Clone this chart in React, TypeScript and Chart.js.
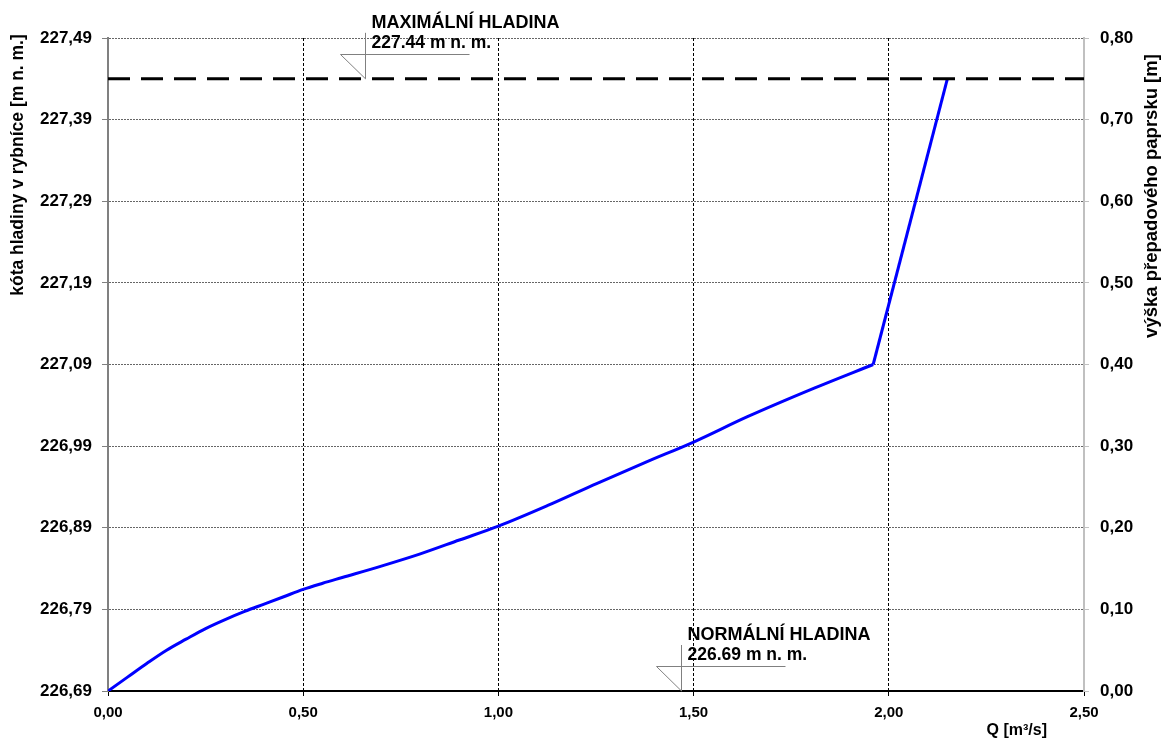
import React, { useEffect, useRef } from "react";
import { Chart, registerables } from "chart.js";

Chart.register(...registerables);

// průtok Q [m3/s] a výška přepadového paprsku [m]
const qValues = [0, 0.05, 0.1, 0.15, 0.2, 0.25, 0.3, 0.35, 0.4, 0.45, 0.5, 0.55, 0.6, 0.7, 0.8, 0.9, 1.0, 1.125, 1.253, 1.381, 1.5, 1.638, 1.809, 1.96];
const heightValues = [0, 0.017, 0.034, 0.05, 0.0635, 0.0765, 0.0875, 0.0975, 0.1065, 0.1155, 0.1245, 0.132, 0.139, 0.153, 0.168, 0.185, 0.202, 0.227, 0.2545, 0.281, 0.305, 0.336, 0.371, 0.4];
const overflowQ = [1.96, 2.15];
const overflowHeight = [0.4, 0.75];

const maxLevel = 227.44;
const normalLevel = 226.69;
const maxLineQ = [0, 2.5];
const maxMarkQ = 0.659;
const normalMarkQ = 1.467;

const levelTicks = [226.69, 226.79, 226.89, 226.99, 227.09, 227.19, 227.29, 227.39, 227.49];
const heightTicks = [0, 0.1, 0.2, 0.3, 0.4, 0.5, 0.6, 0.7, 0.8];
const qTicks = [0, 0.5, 1.0, 1.5, 2.0, 2.5];

const maxTitle = "MAXIMÁLNÍ HLADINA";
const maxLabel = "227.44 m n. m.";
const normalTitle = "NORMÁLNÍ HLADINA";
const normalLabel = "226.69 m n. m.";
const leftTitle = "kóta hladiny v rybníce [m n. m.]";
const rightTitle = "výška přepadového paprsku [m]";
const xTitle = "Q [m³/s]";

const FONT = '"Liberation Sans", Arial, sans-serif';
const fmt = (v: number) => v.toFixed(2).replace(".", ",");

function drawMark(ctx: CanvasRenderingContext2D, px: number, py: number, title: string, label: string) {
  ctx.save();
  ctx.strokeStyle = "#808080";
  ctx.lineWidth = 1;
  ctx.beginPath();
  const vx = Math.round(px) + 0.5;
  const hy = Math.round(py - 25) + 0.5;
  ctx.moveTo(vx, py - 46);
  ctx.lineTo(vx, py);
  ctx.moveTo(vx - 25, hy);
  ctx.lineTo(vx + 104, hy);
  ctx.moveTo(vx - 25, hy);
  ctx.lineTo(vx, py);
  ctx.stroke();
  ctx.fillStyle = "#000";
  ctx.textAlign = "left";
  ctx.textBaseline = "alphabetic";
  ctx.font = `bold 18px ${FONT}`;
  ctx.fillText(title, vx + 6, py - 51);
  ctx.font = `bold 17.5px ${FONT}`;
  ctx.fillText(label, vx + 6, py - 31);
  ctx.restore();
}

const overlayPlugin = {
  id: "overlay",
  afterDatasetsDraw(chart: any) {
    const ctx: CanvasRenderingContext2D = chart.ctx;
    const xs = chart.scales.x;
    const ys = chart.scales.y;
    drawMark(ctx, xs.getPixelForValue(maxMarkQ), ys.getPixelForValue(maxLevel), maxTitle, maxLabel);
    drawMark(ctx, xs.getPixelForValue(normalMarkQ), ys.getPixelForValue(normalLevel), normalTitle, normalLabel);
  },
  afterDraw(chart: any) {
    const ctx: CanvasRenderingContext2D = chart.ctx;
    ctx.save();
    ctx.fillStyle = "#000";
    ctx.textAlign = "center";
    ctx.textBaseline = "middle";
    ctx.font = `bold 17.5px ${FONT}`;
    ctx.save();
    ctx.translate(18, 165);
    ctx.rotate(-Math.PI / 2);
    ctx.fillText(leftTitle, 0, 0);
    ctx.restore();
    ctx.font = `bold 18.5px ${FONT}`;
    ctx.save();
    ctx.translate(1152, 196);
    ctx.rotate(-Math.PI / 2);
    ctx.fillText(rightTitle, 0, 0);
    ctx.restore();
    ctx.font = `bold 16px ${FONT}`;
    ctx.textAlign = "right";
    ctx.textBaseline = "alphabetic";
    ctx.fillText(xTitle, 1047, 735);
    ctx.restore();
  },
};

export default function App() {
  const ref = useRef<HTMLCanvasElement | null>(null);
  useEffect(() => {
    document.body.style.margin = "0";
    if (!ref.current) return;
    const curve = qValues.map((q, i) => ({ x: q, y: heightValues[i] }));
    const overflow = overflowQ.map((q, i) => ({ x: q, y: overflowHeight[i] }));
    const maxLine = maxLineQ.map((q) => ({ x: q, y: maxLevel }));
    const chart = new Chart(ref.current, {
      type: "scatter",
      data: {
        datasets: [
          {
            data: maxLine,
            yAxisID: "y",
            showLine: true,
            borderColor: "#000",
            borderWidth: 3,
            borderDash: [22, 11],
            pointRadius: 0,
          },
          {
            data: curve,
            yAxisID: "y2",
            showLine: true,
            borderColor: "#0000ff",
            borderWidth: 3,
            cubicInterpolationMode: "monotone",
            pointRadius: 0,
          },
          {
            data: overflow,
            yAxisID: "y2",
            showLine: true,
            borderColor: "#0000ff",
            borderWidth: 3,
            pointRadius: 0,
          },
        ],
      } as any,
      options: {
        animation: false,
        responsive: true,
        maintainAspectRatio: false,
        layout: { padding: { top: 38, left: 0, right: 0, bottom: 0 } },
        plugins: { legend: { display: false }, tooltip: { enabled: false } },
        scales: {
          x: {
            type: "linear",
            min: 0,
            max: 2.5,
            afterBuildTicks: (s: any) => {
              s.ticks = qTicks.map((v) => ({ value: v }));
            },
            afterFit: (s: any) => {
              s.height = 53;
            },
            ticks: {
              callback: (v: any) => fmt(Number(v)),
              font: { family: FONT, size: 15, weight: "bold" },
              color: "#000",
              padding: 8,
              maxRotation: 0,
              autoSkip: false,
            },
            grid: {
              color: (c: any) => (c.tick && (c.tick.value === 0 || c.tick.value === 2.5) ? "rgba(0,0,0,0)" : "#000"),
              tickColor: "#000",
              lineWidth: 1,
              tickLength: 5,
            },
            border: { color: "#000", width: 2, dash: [3, 2] },
          },
          y: {
            type: "linear",
            position: "left",
            min: 226.69,
            max: 227.49,
            afterBuildTicks: (s: any) => {
              s.ticks = levelTicks.map((v) => ({ value: v }));
            },
            afterFit: (s: any) => {
              s.width = 108;
            },
            ticks: {
              callback: (v: any) => fmt(Number(v)),
              font: { family: FONT, size: 17, weight: "bold" },
              color: "#000",
              padding: 10,
              autoSkip: false,
            },
            grid: {
              color: (c: any) => (c.tick && Math.abs(c.tick.value - 226.69) < 1e-6 ? "rgba(0,0,0,0)" : "#666"),
              tickColor: "#808080",
              lineWidth: 1,
              tickLength: 6,
            },
            border: { color: "#808080", width: 2, dash: [2, 1] },
          },
          y2: {
            type: "linear",
            position: "right",
            min: 0,
            max: 0.8,
            afterBuildTicks: (s: any) => {
              s.ticks = heightTicks.map((v) => ({ value: v }));
            },
            afterFit: (s: any) => {
              s.width = 87;
            },
            ticks: {
              callback: (v: any) => fmt(Number(v)),
              font: { family: FONT, size: 17, weight: "bold" },
              color: "#000",
              padding: 11,
              autoSkip: false,
            },
            grid: {
              drawOnChartArea: false,
              color: "#c0c0c0",
              tickColor: "#c0c0c0",
              tickLength: 5,
            },
            border: { color: "#c0c0c0", width: 2 },
          },
        },
      } as any,
      plugins: [overlayPlugin],
    });
    return () => chart.destroy();
  }, []);
  return (
    <div style={{ width: 1171, height: 744, position: "relative" }}>
      <canvas ref={ref} />
    </div>
  );
}
